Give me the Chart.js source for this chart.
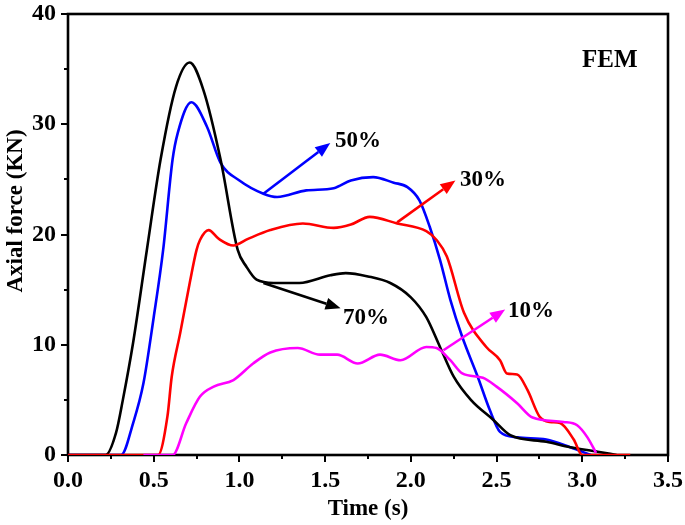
<!DOCTYPE html>
<html>
<head>
<meta charset="utf-8">
<script src="https://cdn.jsdelivr.net/npm/chart.js@4.4.1/dist/chart.umd.min.js"></script>
<style>
  html, body { margin: 0; padding: 0; background: #fff; }
  #wrap { width: 685px; height: 525px; }
</style>
</head>
<body>
<div id="wrap"><canvas id="forceChart" width="685" height="525"></canvas></div>
<script>
// values (time in s, axial force in kN)
const time70 = [0, 0.22, 0.28, 0.32, 0.38, 0.46, 0.54, 0.63, 0.71, 0.79, 0.89, 0.99, 1.04, 1.10, 1.20, 1.35, 1.53, 1.62, 1.75, 1.88, 2.00, 2.09, 2.17, 2.25, 2.35, 2.48, 2.58, 2.79, 2.93, 3.09, 3.20];
const force70 = [0, 0, 2.0, 5.0, 10.2, 18.6, 26.8, 33.4, 35.6, 33.1, 26.8, 18.6, 17.1, 15.9, 15.6, 15.6, 16.3, 16.5, 16.2, 15.6, 14.3, 12.5, 9.8, 7.1, 5.0, 3.2, 1.8, 1.2, 0.7, 0.3, 0];

const time50 = [0, 0.31, 0.38, 0.44, 0.50, 0.555, 0.61, 0.64, 0.72, 0.81, 0.89, 1.00, 1.14, 1.22, 1.39, 1.55, 1.65, 1.78, 1.90, 1.98, 2.05, 2.11, 2.17, 2.23, 2.30, 2.39, 2.46, 2.52, 2.62, 2.79, 2.93, 3.05];
const force50 = [0, 0, 2.9, 6.5, 12.5, 18.6, 26.8, 29.2, 32.0, 29.8, 26.5, 24.9, 23.7, 23.4, 24.0, 24.2, 24.9, 25.2, 24.7, 24.3, 23.1, 20.7, 17.7, 14.1, 10.7, 7.1, 4.1, 2.1, 1.6, 1.4, 0.7, 0];

const time30 = [0, 0.525, 0.58, 0.605, 0.655, 0.71, 0.75, 0.77, 0.82, 0.88, 0.965, 1.05, 1.18, 1.37, 1.55, 1.65, 1.76, 1.92, 2.09, 2.15, 2.21, 2.31, 2.44, 2.52, 2.56, 2.62, 2.68, 2.75, 2.81, 2.87, 2.95, 3.00, 3.28];
const force30 = [0, 0, 3.5, 7.1, 11.1, 15.6, 18.6, 19.5, 20.4, 19.6, 19.0, 19.6, 20.4, 21.0, 20.6, 20.9, 21.6, 21.0, 20.3, 19.5, 18.0, 12.9, 9.8, 8.6, 7.4, 7.3, 5.9, 3.5, 3.0, 2.9, 1.4, 0, 0];

const time10 = [0.44, 0.61, 0.69, 0.77, 0.85, 0.965, 1.08, 1.18, 1.34, 1.47, 1.57, 1.69, 1.82, 1.94, 2.09, 2.15, 2.23, 2.30, 2.42, 2.50, 2.62, 2.71, 2.89, 2.97, 3.03, 3.08];
const force10 = [0, 0, 2.9, 5.3, 6.2, 6.8, 8.3, 9.3, 9.7, 9.1, 9.1, 8.3, 9.1, 8.6, 9.8, 9.7, 8.6, 7.4, 7.0, 6.2, 4.7, 3.4, 3.0, 2.7, 1.6, 0.2];

const xTicks = [0, 0.5, 1.0, 1.5, 2.0, 2.5, 3.0, 3.5];
const yTicks = [0, 10, 20, 30, 40];
const xTitle = 'Time (s)';
const yTitle = 'Axial force (KN)';

// arrows [x0, y0, x1, y1] in data units, and their labels
const arrowColors = ['#0000ff', '#ff0000', '#000000', '#ff00ff'];
const arrowLines = [[1.14, 23.7, 1.53, 28.3], [1.92, 21.1, 2.26, 24.9], [1.14, 15.6, 1.59, 13.3], [2.19, 9.5, 2.55, 13.2]];
const labelTexts = ['50%', '30%', '70%', '10%'];
const labelPos = [[1.558, 28.5], [2.287, 24.9], [1.604, 12.4], [2.567, 13.1]];
const noteText = 'FEM';
const notePos = [3.16, 35.8];

const serif = '"Liberation Serif", "Times New Roman", serif';

function toPoints(xs, ys) {
    return xs.map((x, i) => ({ x: x, y: ys[i] }));
}

function lineSet(label, xs, ys, color) {
    return {
        label: label,
        data: toPoints(xs, ys),
        borderColor: color,
        backgroundColor: color,
        borderWidth: 2.6,
        pointRadius: 0,
        fill: false,
        cubicInterpolationMode: 'monotone'
    };
}

const framePlugin = {
    id: 'frame',
    beforeDatasetsDraw(chart) {
        const ctx = chart.ctx;
        const a = chart.chartArea;
        const xs = chart.scales.x;
        const ys = chart.scales.y;
        ctx.save();
        ctx.strokeStyle = '#000';
        ctx.lineWidth = 2.6;
        ctx.strokeRect(a.left, a.top, a.right - a.left, a.bottom - a.top);
        ctx.lineWidth = 2;
        ctx.beginPath();
        for (let v = 0; v <= 3.5001; v += 0.25) {
            const px = Math.round(xs.getPixelForValue(v));
            const len = Math.abs(v / 0.5 - Math.round(v / 0.5)) < 1e-6 ? 7 : 4;
            ctx.moveTo(px, a.bottom);
            ctx.lineTo(px, a.bottom + len);
        }
        for (let v = 0; v <= 40.001; v += 5) {
            const py = Math.round(ys.getPixelForValue(v));
            const len = v % 10 === 0 ? 7 : 4;
            ctx.moveTo(a.left, py);
            ctx.lineTo(a.left - len, py);
        }
        ctx.stroke();

        // y axis title, set a little above the middle as in the figure
        ctx.fillStyle = '#000';
        ctx.font = 'bold 23px ' + serif;
        ctx.textAlign = 'center';
        ctx.textBaseline = 'middle';
        ctx.translate(16, 211);
        ctx.rotate(-Math.PI / 2);
        ctx.fillText(yTitle, 0, 0);
        ctx.restore();
    },
    afterDatasetsDraw(chart) {
        const ctx = chart.ctx;
        const xs = chart.scales.x;
        const ys = chart.scales.y;
        ctx.save();
        arrowLines.forEach((ln, i) => {
            const x0 = xs.getPixelForValue(ln[0]);
            const y0 = ys.getPixelForValue(ln[1]);
            const x1 = xs.getPixelForValue(ln[2]);
            const y1 = ys.getPixelForValue(ln[3]);
            const ang = Math.atan2(y1 - y0, x1 - x0);
            const head = 15;
            const bx = x1 - head * Math.cos(ang);
            const by = y1 - head * Math.sin(ang);
            ctx.strokeStyle = arrowColors[i];
            ctx.fillStyle = arrowColors[i];
            ctx.lineWidth = 2.6;
            ctx.beginPath();
            ctx.moveTo(x0, y0);
            ctx.lineTo(bx, by);
            ctx.stroke();
            ctx.beginPath();
            ctx.moveTo(x1, y1);
            ctx.lineTo(bx + 6 * Math.sin(ang), by - 6 * Math.cos(ang));
            ctx.lineTo(bx - 6 * Math.sin(ang), by + 6 * Math.cos(ang));
            ctx.closePath();
            ctx.fill();
        });
        ctx.fillStyle = '#000';
        ctx.font = 'bold 23px ' + serif;
        ctx.textAlign = 'left';
        ctx.textBaseline = 'middle';
        labelTexts.forEach((t, i) => {
            ctx.fillText(t, xs.getPixelForValue(labelPos[i][0]), ys.getPixelForValue(labelPos[i][1]));
        });
        ctx.font = 'bold 25px ' + serif;
        ctx.textAlign = 'center';
        ctx.fillText(noteText, xs.getPixelForValue(notePos[0]), ys.getPixelForValue(notePos[1]));
        ctx.restore();
    }
};

const ctx = document.getElementById('forceChart').getContext('2d');
const chart = new Chart(ctx, {
    type: 'line',
    data: {
        datasets: [
            lineSet('10%', time10, force10, '#ff00ff'),
            lineSet('30%', time30, force30, '#ff0000'),
            lineSet('70%', time70, force70, '#000000'),
            lineSet('50%', time50, force50, '#0000ff')
        ]
    },
    options: {
        responsive: false,
        devicePixelRatio: 1,
        animation: false,
        layout: { padding: { top: 14, right: 17, left: 0, bottom: 0 } },
        plugins: {
            legend: { display: false },
            tooltip: { enabled: false }
        },
        scales: {
            x: {
                type: 'linear',
                min: 0,
                max: 3.5,
                afterFit: function(scale) {
                    scale.height = 70;
                    scale.paddingLeft = 0;
                    scale.paddingRight = 0;
                },
                afterBuildTicks: function(scale) { scale.ticks = xTicks.map(v => ({ value: v })); },
                grid: { display: false, drawTicks: false },
                border: { display: false },
                ticks: {
                    color: '#000',
                    padding: 11,
                    maxRotation: 0,
                    font: { family: serif, size: 24, weight: 'bold' },
                    callback: v => v.toFixed(1)
                },
                title: {
                    display: true,
                    text: xTitle,
                    color: '#000',
                    padding: { top: 0, bottom: 2 },
                    font: { family: serif, size: 23, weight: 'bold' }
                }
            },
            y: {
                min: 0,
                max: 40,
                afterFit: function(scale) {
                    scale.width = 68;
                    scale.paddingTop = 0;
                    scale.paddingBottom = 0;
                },
                afterBuildTicks: function(scale) { scale.ticks = yTicks.map(v => ({ value: v })); },
                grid: { display: false, drawTicks: false },
                border: { display: false },
                ticks: {
                    color: '#000',
                    padding: 12,
                    font: { family: serif, size: 24, weight: 'bold' }
                }
            }
        }
    },
    plugins: [framePlugin]
});
</script>
</body>
</html>
